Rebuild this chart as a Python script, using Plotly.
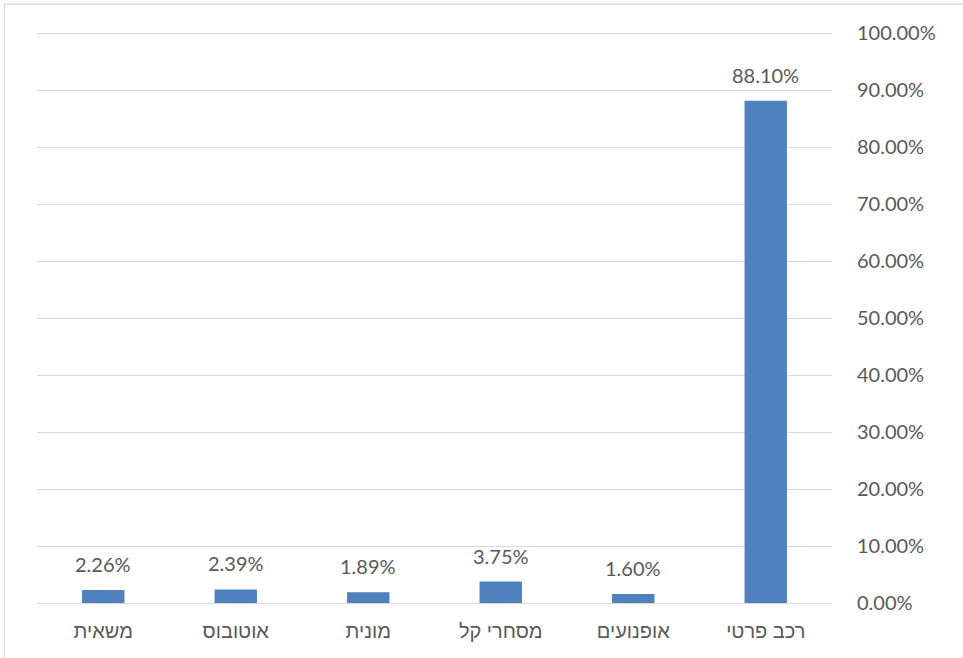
import plotly.graph_objects as go

# Share of vehicles by type
categories = ["רכב פרטי", "אופנועים", "מסחרי קל", "מונית", "אוטובוס", "משאית"]
shares = [0.8810, 0.0160, 0.0375, 0.0189, 0.0239, 0.0226]
y_ticks = [i / 10 for i in range(11)]

label_font = dict(family="Lato, Liberation Sans, sans-serif", size=20, color="#595959")

fig = go.Figure(
    go.Bar(
        x=categories,
        y=shares,
        marker=dict(color="#4f81bd", line=dict(width=0)),
        width=0.32,
        hoverinfo="x+y",
    )
)

# Value labels above each bar
for cat, val in zip(categories, shares):
    fig.add_annotation(
        x=cat, y=val, text=f"{val:.2%}", showarrow=False,
        yanchor="bottom", yshift=12, font=label_font,
    )

# Outer chart frame
fig.add_shape(
    type="rect", xref="paper", yref="paper",
    x0=-0.0409, x1=1.5, y0=-0.5, y1=1.047,
    line=dict(color="#d9d9d9", width=1.2), layer="below",
)

fig.update_layout(
    width=963, height=658,
    margin=dict(l=37, r=131, t=31, b=55),
    paper_bgcolor="white", plot_bgcolor="white",
    showlegend=False,
    bargap=0.68,
    xaxis=dict(
        autorange="reversed",
        showgrid=False, zeroline=False, showline=False,
        ticks="", ticklabelstandoff=14,
        tickfont=dict(family="Liberation Sans, sans-serif", size=20, color="#595959"),
    ),
    yaxis=dict(
        side="right", range=[0, 1.0035],
        tickvals=y_ticks, tickformat=".2%",
        showgrid=True, gridcolor="#d9d9d9", gridwidth=1.3,
        zeroline=True, zerolinecolor="#d9d9d9", zerolinewidth=1.3,
        showline=False, ticks="", ticklabelstandoff=24,
        tickfont=label_font,
    ),
)

fig.write_html("out.html")
